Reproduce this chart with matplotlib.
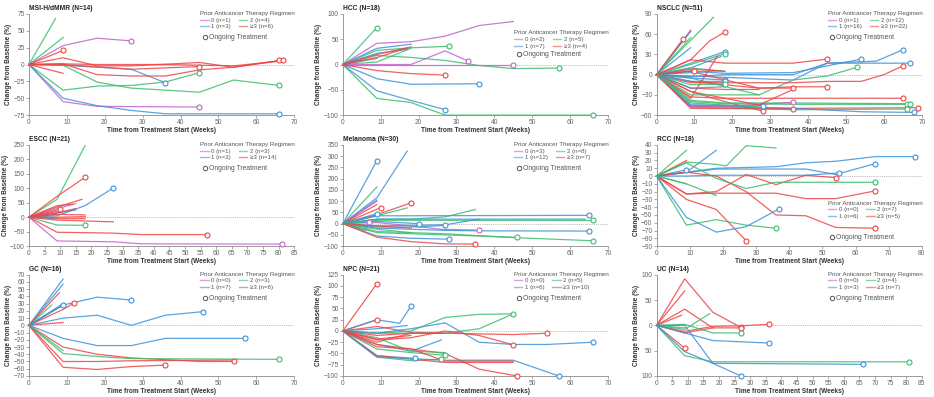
import matplotlib.pyplot as plt
from matplotlib.lines import Line2D
from matplotlib.ticker import FuncFormatter
import numpy as np

plt.rcParams['font.family'] = ['Liberation Sans', 'DejaVu Sans']

group_colors = ['#c464cb', '#3f93d8', '#3dbd6e', '#ee4545']
group_names = ['0', '1', '2', '≥3']

# each patient: (prior regimen group, weeks, % change from baseline, ongoing)
msi_lines = [
    (2, [0, 7], [0, 68], False),
    (2, [0, 9], [0, 40], False),
    (2, [0, 9, 18, 27, 36, 45], [0, -38, -32, -31, -26, -12], True),
    (2, [0, 9, 18, 27, 45, 54, 66], [0, -1, -26, -35, -41, -23, -31], True),
    (0, [0, 9, 18, 27], [0, 28, 39, 35], True),
    (0, [0, 9, 18, 45], [0, -55, -62, -63], True),
    (1, [0, 9, 18, 27, 36, 66], [0, -50, -61, -68, -73, -73], True),
    (1, [0, 9, 27, 36], [0, -1, -7, -27], True),
    (3, [0, 9], [0, 21], True),
    (3, [0, 9, 18, 27, 45, 54, 66], [0, 10, -2, -2, 3, -4, 6], True),
    (3, [0, 9, 18, 27, 36, 45, 54, 67], [0, 1, -15, -17, -17, -8, -4, 6], True),
    (3, [0, 9], [0, -13], False),
    (3, [0, 9, 27, 45], [0, 0, -7, -3], True),
    (3, [0, 9, 18, 36, 54, 66], [0, 1, 0, 0, -2, 5], False),
]

hcc_lines = [
    (2, [0, 9], [0, 73], True),
    (2, [0, 9, 18, 28], [0, 28, 33, 36], True),
    (2, [0, 9, 18], [0, 5, 32], False),
    (2, [0, 9, 18, 27, 36, 45, 57], [0, 18, 14, 8, -2, -8, -7], True),
    (2, [0, 9, 18, 27, 66], [0, -67, -75, -100, -100], True),
    (0, [0, 9, 18, 27, 36, 45], [0, 42, 45, 56, 77, 85], False),
    (0, [0, 18, 27, 33], [0, 0, 27, 7], True),
    (0, [0, 45], [0, 0], True),
    (1, [0, 9, 18], [0, 32, 40], False),
    (1, [0, 9, 18, 36], [0, -28, -39, -38], True),
    (1, [0, 9, 18, 27], [0, -52, -71, -89], True),
    (1, [0, 9, 17], [0, 22, 30], False),
    (1, [0, 9], [0, 12], False),
    (3, [0, 9, 18, 27], [0, -12, -18, -21], True),
    (3, [0, 9, 18], [0, 14, 35], False),
    (3, [0, 9, 17], [0, 20, 33], False),
]

nsclc_lines = [
    (2, [0, 15], [0, 85], False),
    (3, [0, 9], [0, 66], False),
    (1, [0, 9], [0, 64], False),
    (3, [0, 7], [0, 53], True),
    (2, [0, 9], [0, 55], False),
    (1, [0, 9], [0, 40], False),
    (3, [0, 9, 14, 18], [0, 22, 50, 63], True),
    (1, [0, 9, 18], [0, 17, 34], True),
    (2, [0, 9, 18], [0, 15, 31], True),
    (1, [0, 9, 17], [0, 10, 27], False),
    (3, [0, 9, 18, 36, 45], [0, 22, 17, 17, 23], True),
    (1, [0, 9, 18, 36, 54], [0, 5, 2, 3, 23], True),
    (1, [0, 9, 18, 36, 45, 58, 65], [0, -3, 0, 0, 17, 20, 37], True),
    (1, [0, 9, 36, 45, 67], [0, -2, -8, 17, 17], True),
    (2, [0, 9, 27, 36, 45, 53], [0, -5, -30, -8, -2, 11], True),
    (3, [0, 9, 27, 36, 45], [0, -10, -20, -18, -18], True),
    (3, [0, 9, 27, 36], [0, 5, -20, -20], True),
    (3, [0, 9, 36, 45, 54, 60, 65], [0, -12, -12, -10, -10, 0, 13], True),
    (1, [0, 9, 18], [0, -5, -8], True),
    (1, [0, 9, 18], [0, -10, -10], True),
    (2, [0, 9, 18], [0, -15, -14], True),
    (3, [0, 10], [0, 6], True),
    (3, [0, 9, 18, 28], [0, -25, -40, -54], True),
    (3, [0, 9, 16], [0, -35, 27], False),
    (3, [0, 9, 18, 45, 65], [0, -33, -35, -35, -35], True),
    (2, [0, 9, 18, 36, 66], [0, -38, -42, -42, -43], True),
    (2, [0, 9, 18, 36, 67], [0, -40, -43, -44, -44], True),
    (3, [0, 9, 36, 69], [0, -47, -50, -49], True),
    (1, [0, 9, 36, 54, 68], [0, -45, -50, -55, -56], True),
    (2, [0, 9, 36, 66], [0, -48, -52, -51], True),
    (0, [0, 9, 18, 36], [0, -48, -47, -41], True),
    (1, [0, 9, 28], [0, -45, -46], True),
    (3, [0, 9, 36], [0, -50, -51], True),
    (3, [0, 9, 27, 36], [0, -25, -45, -22], False),
    (2, [0, 9, 18, 27], [0, -30, -30, -30], False),
    (3, [0, 9, 18, 27], [0, -20, -22, -22], False),
    (1, [0, 9, 17], [0, 3, 6], False),
    (2, [0, 9, 18], [0, 10, 5], False),
    (1, [0, 9, 18], [0, -20, -18], False),
    (2, [0, 9, 27], [0, -42, -48], False),
    (3, [0, 9, 18], [0, 8, 5], False),
]

escc_lines = [
    (2, [0, 9, 18], [0, 62, 248], False),
    (2, [0, 9, 18], [0, -27, -28], True),
    (2, [0, 9], [0, 10], False),
    (3, [0, 9, 18], [0, 72, 138], True),
    (1, [0, 9, 18, 27], [0, 5, 40, 101], True),
    (3, [0, 9, 17], [0, 35, 62], False),
    (0, [0, 9, 15], [0, 30, 47], False),
    (3, [0, 10], [0, 28], True),
    (3, [0, 9, 18], [0, 10, 8], False),
    (3, [0, 9, 18], [0, 0, 2], False),
    (3, [0, 9, 27], [0, -10, -16], False),
    (3, [0, 9, 18], [0, -5, -5], False),
    (3, [0, 9, 27, 36, 57], [0, -52, -55, -60, -60], True),
    (0, [0, 9, 27, 36, 81], [0, -82, -85, -92, -93], True),
    (1, [0, 9, 15], [0, 15, 25], False),
    (1, [0, 9], [0, -3], False),
    (3, [0, 9, 15], [0, 15, 30], False),
    (3, [0, 9, 14], [0, 40, 45], False),
    (3, [0, 9], [0, 20], False),
]

mel_lines = [
    (1, [0, 9], [0, 280], True),
    (1, [0, 9, 17], [0, 115, 323], False),
    (2, [0, 9], [0, 163], False),
    (1, [0, 9], [0, 105], False),
    (0, [0, 9], [0, 100], False),
    (3, [0, 9], [0, 85], False),
    (3, [0, 10], [0, 71], True),
    (3, [0, 9, 18], [0, 40, 92], True),
    (2, [0, 9, 17], [0, 35, 70], False),
    (1, [0, 9], [0, 45], True),
    (0, [0, 6, 7], [0, -30, 8], True),
    (0, [0, 9, 18, 26, 36], [0, 5, -10, -25, -29], True),
    (1, [0, 9, 20], [0, 10, 0], True),
    (1, [0, 9, 18, 27], [0, -15, -15, -8], True),
    (2, [0, 9, 18, 27, 35], [0, 20, 20, 30, 63], False),
    (1, [0, 9, 18, 65], [0, 35, 35, 37], True),
    (1, [0, 9, 27, 64], [0, 20, 20, 20], False),
    (2, [0, 9, 18, 66], [0, 15, 15, 14], True),
    (1, [0, 9, 27, 36], [0, -10, -5, 20], False),
    (1, [0, 9, 27, 36, 65], [0, -20, -30, -32, -33], True),
    (2, [0, 9, 27, 46], [0, -40, -50, -61], True),
    (2, [0, 9, 27, 45, 66], [0, -35, -45, -62, -76], True),
    (1, [0, 9, 18, 28], [0, -55, -65, -69], True),
    (3, [0, 9, 18, 27, 35], [0, -60, -80, -90, -91], True),
    (2, [0, 9, 18], [0, -25, -40], False),
    (3, [0, 9, 18], [0, -10, -20], False),
]

rcc_lines = [
    (2, [0, 9], [0, 33], False),
    (1, [0, 9, 18], [0, 5, 33], False),
    (1, [0, 9], [0, 8], True),
    (3, [0, 9], [0, 20], False),
    (2, [0, 9, 18, 21, 27, 36], [0, 18, 15, 13, 39, 36], False),
    (1, [0, 9, 18, 36, 45, 54, 66, 78], [0, 5, 10, 12, 17, 19, 25, 25], True),
    (1, [0, 18, 45, 54, 66], [0, 9, 9, 2, 16], True),
    (1, [0, 9, 18, 45, 55], [0, 0, 1, 1, 4], True),
    (3, [0, 9, 18, 27, 36, 45, 54, 66], [0, 5, 0, -20, -50, -51, -66, -67], True),
    (3, [0, 9, 18, 27, 36, 45, 54], [0, -23, -20, 2, -11, 1, -2], True),
    (2, [0, 9, 18], [0, -10, -25], False),
    (2, [0, 9, 18, 27, 36, 66], [0, 17, -3, -16, -8, -8], True),
    (3, [0, 9, 18, 36, 45, 54, 66], [0, -23, -22, -22, -29, -29, -19], True),
    (3, [0, 9, 18, 27], [0, -30, -43, -83], True),
    (2, [0, 9, 18, 27, 36], [0, -63, -56, -63, -67], True),
    (1, [0, 9, 18, 27, 37], [0, -53, -72, -65, -42], True),
    (2, [0, 9], [0, -10], False),
]

gc_lines = [
    (1, [0, 9], [0, 64], False),
    (1, [0, 9], [0, 57], False),
    (3, [0, 8], [0, 45], False),
    (1, [0, 9], [0, 30], False),
    (2, [0, 6], [0, 28], False),
    (1, [0, 9, 18, 27], [0, 28, 39, 35], True),
    (1, [0, 9], [0, 28], True),
    (3, [0, 9, 12], [0, 22, 31], True),
    (3, [0, 9], [0, 4], False),
    (1, [0, 9, 18, 27, 36, 46], [0, 10, 14, 0, 14, 19], True),
    (1, [0, 9, 18, 27, 36, 57], [0, -18, -28, -28, -18, -18], True),
    (3, [0, 9, 18, 27, 45, 54], [0, -30, -40, -45, -50, -50], True),
    (2, [0, 9, 18, 27, 66], [0, -39, -43, -46, -47], True),
    (3, [0, 9, 18, 27, 54], [0, -50, -50, -49, -48], False),
    (3, [0, 9, 18, 27, 36], [0, -58, -61, -57, -55], True),
    (2, [0, 9], [0, -35], False),
]

npc_lines = [
    (3, [0, 9], [0, 105], True),
    (3, [0, 9], [0, 25], True),
    (1, [0, 9, 15, 18], [0, 25, 17, 55], True),
    (1, [0, 9, 17], [0, 5, 12], False),
    (3, [0, 9, 18, 27], [0, 10, -3, -5], False),
    (2, [0, 9, 18, 27, 36, 45], [0, -5, 0, 30, 37, 38], True),
    (2, [0, 9, 27, 36, 45], [0, -5, -5, 5, 38], False),
    (1, [0, 9, 18, 27, 36, 45, 54, 66], [0, -5, 5, 18, -25, -30, -30, -25], True),
    (3, [0, 9, 18, 27, 45, 54], [0, -10, -5, -5, -8, -5], True),
    (3, [0, 9, 18, 27, 36, 45], [0, -20, -15, 0, -10, -31], True),
    (3, [0, 9, 18], [0, -25, -5], False),
    (1, [0, 9, 18, 26], [0, -30, -45, -20], False),
    (3, [0, 9, 18, 27, 36, 46], [0, -30, -40, -50, -85, -100], True),
    (2, [0, 9, 18, 27], [0, -40, -48, -54], True),
    (2, [0, 9, 18, 27], [0, -15, -45, -48], False),
    (1, [0, 9, 19], [0, -55, -61], True),
    (2, [0, 9, 18, 26], [0, -58, -66, -63], True),
    (3, [0, 9, 27, 45], [0, -55, -70, -70], False),
    (1, [0, 9, 27, 45, 57], [0, -58, -65, -65, -100], True),
    (3, [0, 9, 18, 27, 45], [0, -35, -40, -67, -67], False),
    (3, [0, 9, 18], [0, -18, -10], False),
]

uc_lines = [
    (3, [0, 9, 18, 27], [0, 92, 26, -4], True),
    (3, [0, 9], [0, 68], False),
    (3, [0, 9, 18, 27], [0, 32, -5, -5], True),
    (3, [0, 8], [0, 20], False),
    (3, [0, 9, 18, 27, 36], [0, -12, -2, -1, 2], True),
    (3, [0, 9], [0, -45], True),
    (3, [0, 9, 18], [0, -15, -5], False),
    (2, [0, 9, 17], [0, -8, 23], False),
    (2, [0, 9, 18, 27], [0, 2, -15, -15], True),
    (2, [0, 9, 18, 81], [0, -60, -72, -72], True),
    (2, [0, 9], [0, -5], False),
    (1, [0, 9, 18, 36], [0, -15, -30, -35], True),
    (1, [0, 9, 18, 66], [0, -52, -75, -77], True),
    (1, [0, 9, 18, 27], [0, 0, -75, -100], True),
]

panel_titles = ['MSI-H/dMMR (N=14)', 'HCC (N=18)', 'NSCLC (N=51)',
                'ESCC (N=21)', 'Melanoma (N=30)', 'RCC (N=18)',
                'GC (N=16)', 'NPC (N=21)', 'UC (N=14)']
panel_data = [msi_lines, hcc_lines, nsclc_lines, escc_lines, mel_lines,
              rcc_lines, gc_lines, npc_lines, uc_lines]
# n per regimen group: 0, 1, 2, >=3
panel_counts = [[1, 3, 4, 6], [2, 7, 5, 4], [1, 16, 12, 22],
                [1, 3, 3, 14], [3, 12, 8, 7], [0, 6, 7, 5],
                [0, 7, 3, 6], [0, 6, 5, 10], [0, 3, 4, 7]]
panel_xmax = [70, 70, 70, 85, 70, 80, 70, 70, 85]
panel_xstep = [10, 10, 10, 5, 10, 10, 10, 10, 5]
panel_ylim = [(-75, 75), (-100, 100), (-60, 90), (-100, 250), (-100, 350),
              (-90, 40), (-70, 70), (-100, 125), (-100, 100)]
panel_ystep = [25, 50, 30, 50, 50, 10, 10, 25, 50]

# legend anchors (axes fraction): title top, ongoing-entry top
legend_pos = [(1.03, 0.80), (0.84, 0.63), (1.03, 0.80),
              (1.03, 0.80), (1.03, 0.80), (0.45, 0.12),
              (1.03, 0.80), (1.03, 0.80), (1.03, 0.80)]

fig = plt.figure(figsize=(9.34, 3.97), dpi=100)
lefts = [0.031, 0.367, 0.703]
bottoms = [0.710, 0.380, 0.053]

for i in range(9):
    ax = fig.add_axes([lefts[i % 3], bottoms[i // 3], 0.284, 0.255])
    xmax = panel_xmax[i]
    y0, y1 = panel_ylim[i]

    ax.plot([0, xmax], [0, 0], color='#b5b5b5', lw=0.7, ls=(0, (1, 1.2)), zorder=1)
    for grp, xs, ys, ongoing in panel_data[i]:
        c = group_colors[grp]
        ax.plot(xs, ys, color=c, lw=0.9, alpha=0.85, clip_on=False, zorder=2)
        if ongoing:
            ax.plot(xs[-1], ys[-1], 'o', ms=3.6, mfc='white', mec=c, mew=0.8,
                    clip_on=False, zorder=3)

    ax.set_xlim(0, xmax)
    ax.set_ylim(y0, y1)
    ax.set_xticks(np.arange(0, xmax + 1, panel_xstep[i]))
    ax.set_yticks(np.arange(y0, y1 + 1, panel_ystep[i]))
    if i == 8:
        ax.yaxis.set_major_formatter(FuncFormatter(lambda v, p: f'{abs(v):.0f}'))
    for s in ['top', 'right']:
        ax.spines[s].set_visible(False)
    for s in ['left', 'bottom']:
        ax.spines[s].set_color('#8a8a8a')
        ax.spines[s].set_linewidth(0.6)
    ax.tick_params(labelsize=4.8, length=2, width=0.5, pad=1,
                   color='#8a8a8a', labelcolor='#666666')
    ax.set_xlabel('Time from Treatment Start (Weeks)', fontsize=4.7,
                  fontweight='bold', labelpad=0.5, color='#333333')
    ax.set_ylabel('Change from Baseline (%)', fontsize=4.7,
                  fontweight='bold', labelpad=1, color='#333333')
    ax.set_title(panel_titles[i], loc='left', fontsize=4.8, fontweight='bold',
                 pad=3, color='#222222')

    handles = [Line2D([], [], color=group_colors[g], lw=1, alpha=0.6)
               for g in range(4)]
    labels = [f'{group_names[g]} (n={panel_counts[i][g]})' for g in range(4)]
    ty, oy = legend_pos[i]
    leg = ax.legend(handles, labels, ncol=2, loc='upper left',
                    bbox_to_anchor=(0.645, ty),
                    title='Prior Anticancer Therapy Regimen', title_fontsize=4.5,
                    fontsize=4.4, frameon=False, handlelength=1.4,
                    handletextpad=0.4, columnspacing=1.3, labelspacing=0.25,
                    borderpad=0, borderaxespad=0, alignment='left')
    for t in leg.get_texts():
        t.set_color('#555555')
    leg.get_title().set_color('#555555')
    ax.add_artist(leg)
    ong = Line2D([], [], marker='o', ls='none', ms=3.2, mfc='white',
                 mec='#555555', mew=0.7)
    leg2 = ax.legend([ong], ['Ongoing Treatment'], loc='upper left',
                     bbox_to_anchor=(0.655, oy), fontsize=4.9, frameon=False,
                     handlelength=0.6, handletextpad=0.3, borderpad=0,
                     borderaxespad=0)
    leg2.get_texts()[0].set_color('#555555')

fig.savefig('out.png', dpi=100)
